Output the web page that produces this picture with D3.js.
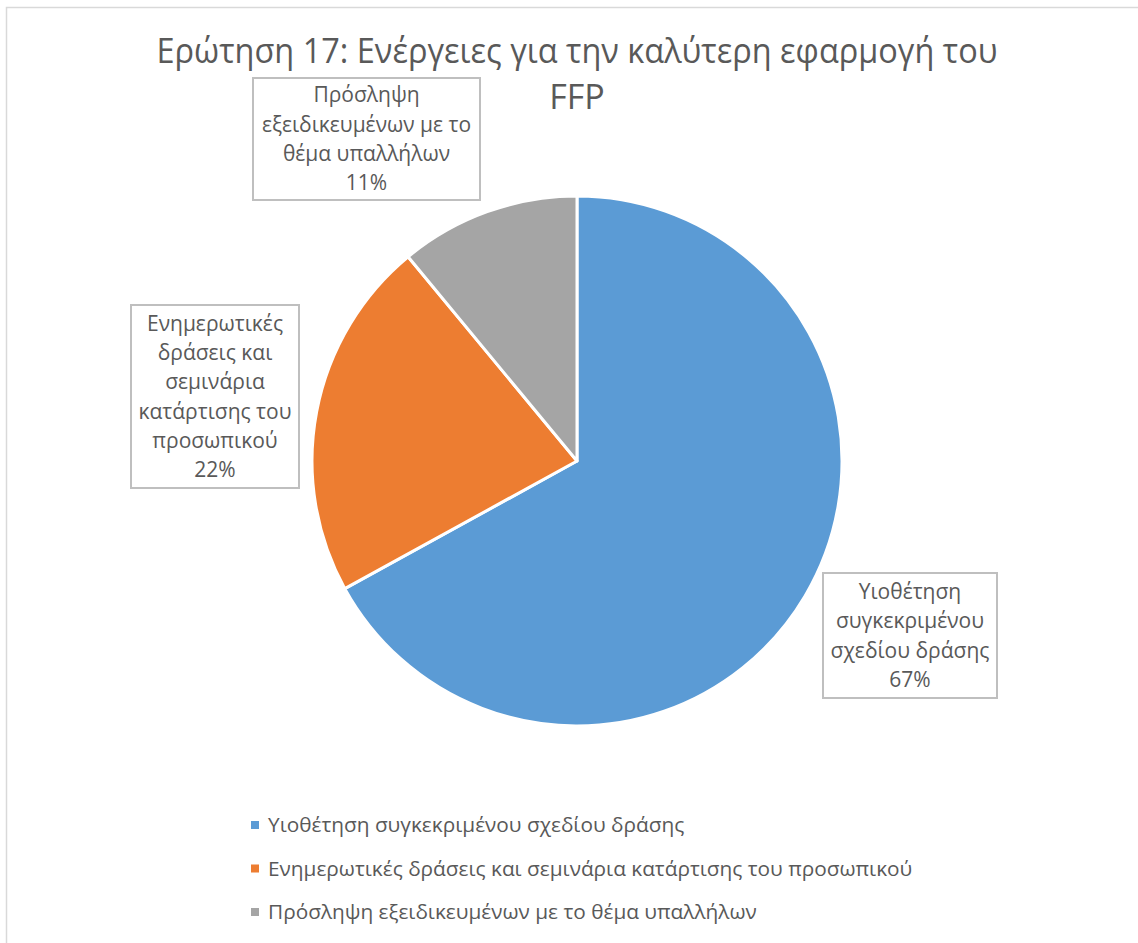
<!DOCTYPE html>
<html>
<head>
  <meta charset="utf-8">
  <title>Ερώτηση 17</title>
  <script src="https://d3js.org/d3.v7.min.js"></script>
  <style>
    body { margin: 0; background: #fff; }
    text { font-family: "Open Sans", "Noto Sans", sans-serif; fill: #595959; }
  </style>
</head>
<body>
  <svg id="pieChart" width="1138" height="943"></svg>

  <script>
    // data
    const categories = [
      "Υιοθέτηση συγκεκριμένου σχεδίου δράσης",
      "Ενημερωτικές δράσεις και σεμινάρια κατάρτισης του προσωπικού",
      "Πρόσληψη εξειδικευμένων με το θέμα υπαλλήλων"
    ];
    const values = [67, 22, 11];
    // wrapped lines used inside the data label boxes
    const labelLines = [
      ["Υιοθέτηση", "συγκεκριμένου", "σχεδίου δράσης"],
      ["Ενημερωτικές", "δράσεις και", "σεμινάρια", "κατάρτισης του", "προσωπικού"],
      ["Πρόσληψη", "εξειδικευμένων με το", "θέμα υπαλλήλων"]
    ];
    const titleLines = ["Ερώτηση 17: Ενέργειες για την καλύτερη εφαρμογή του", "FFP"];

    const colors = ["#5B9BD5", "#ED7D31", "#A5A5A5"];

    const svg = d3.select("#pieChart");

    // chart frame
    svg.append("rect")
      .attr("x", 6.5).attr("y", 7.5)
      .attr("width", 1140).attr("height", 950)
      .attr("fill", "none")
      .attr("stroke", "#d9d9d9")
      .attr("stroke-width", 1.5);

    // title
    const title = svg.append("text")
      .attr("text-anchor", "middle")
      .attr("font-size", 34);
    titleLines.forEach((t, i) => {
      title.append("tspan")
        .attr("x", 577)
        .attr("y", 63 + i * 46)
        .text(t);
    });
    // squeeze first line to the narrow width of the original font
    title.select("tspan").attr("textLength", 841).attr("lengthAdjust", "spacingAndGlyphs");

    // pie
    const cx = 577, cy = 461, r = 265;
    const pie = d3.pie().sort(null).value(d => d);
    const arc = d3.arc().innerRadius(0).outerRadius(r);
    const arcs = pie(values);

    const g = svg.append("g").attr("transform", `translate(${cx},${cy})`);
    g.selectAll("path")
      .data(arcs)
      .join("path")
      .attr("d", arc)
      .attr("fill", (d, i) => colors[i])
      .attr("stroke", "#fff")
      .attr("stroke-width", 3)
      .attr("stroke-linejoin", "round");

    // data label boxes (placed as in the original, outside the pie)
    const boxes = [
      { x: 823, y: 573, w: 174, h: 125 },
      { x: 131, y: 305, w: 168, h: 183 },
      { x: 253, y: 78, w: 227, h: 122 }
    ];
    const lineH = 29.3;

    boxes.forEach((b, i) => {
      const lines = labelLines[i].concat([Math.round(values[i] / d3.sum(values) * 100) + "%"]);
      const lg = svg.append("g");
      lg.append("rect")
        .attr("x", b.x).attr("y", b.y)
        .attr("width", b.w).attr("height", b.h)
        .attr("fill", "#fff")
        .attr("stroke", "#bfbfbf")
        .attr("stroke-width", 2);
      const t = lg.append("text")
        .attr("text-anchor", "middle")
        .attr("font-size", 21);
      const top = b.y + b.h / 2 - (lines.length - 1) * lineH / 2;
      lines.forEach((l, j) => {
        t.append("tspan")
          .attr("x", b.x + b.w / 2)
          .attr("y", top + j * lineH)
          .attr("dy", "0.35em")
          .text(l);
      });
    });

    // legend
    const legendY = d3.scalePoint().domain(categories).range([825, 912]);
    const legend = svg.append("g")
      .selectAll("g")
      .data(categories)
      .join("g")
      .attr("transform", d => `translate(251,${legendY(d)})`);
    legend.append("rect")
      .attr("x", 0).attr("y", -4)
      .attr("width", 8).attr("height", 8)
      .attr("fill", (d, i) => colors[i]);
    legend.append("text")
      .attr("x", 17)
      .attr("dy", "0.35em")
      .attr("font-size", 20.8)
      .text(d => d);
  </script>
</body>
</html>
